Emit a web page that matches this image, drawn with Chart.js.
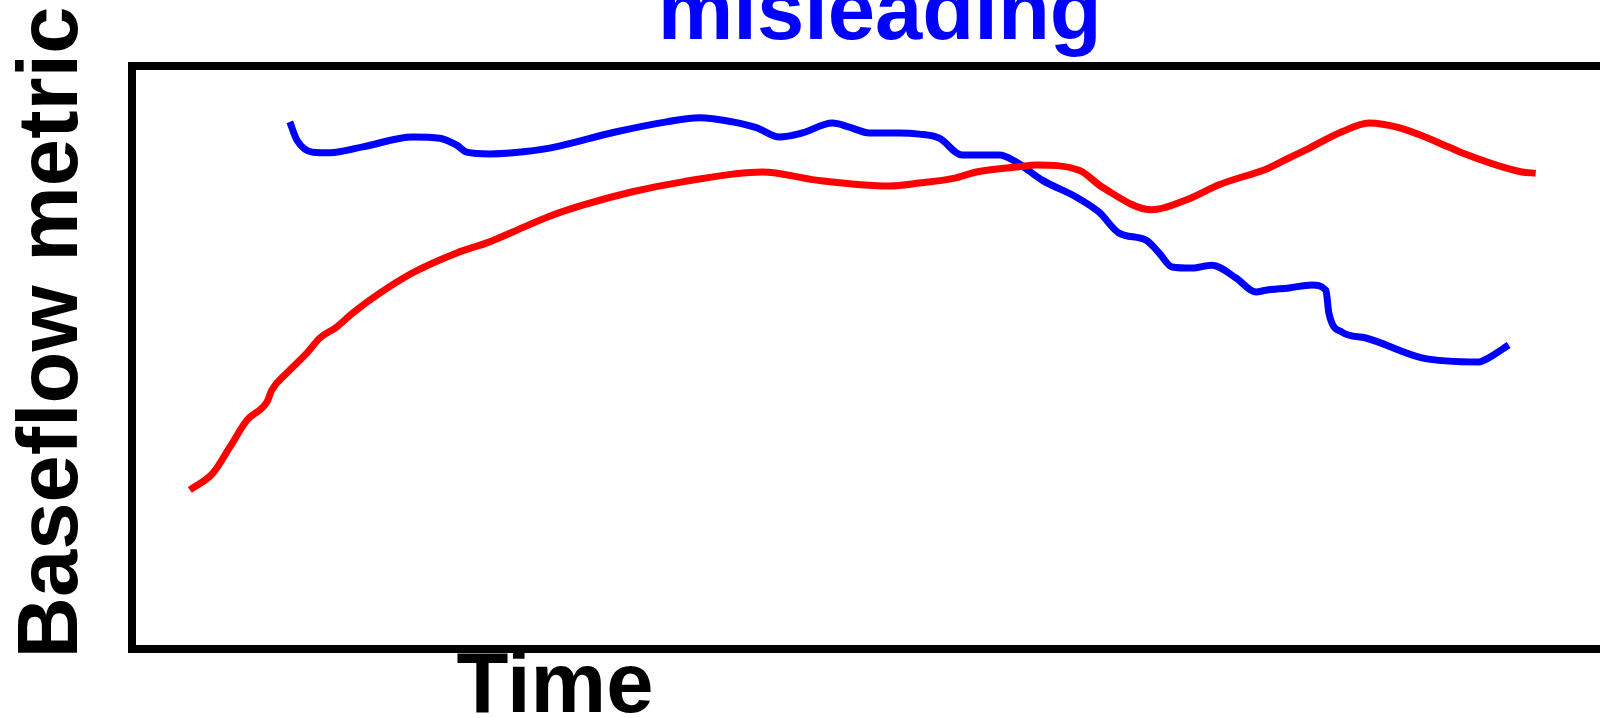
<!DOCTYPE html>
<html>
<head>
<meta charset="utf-8">
<title>misleading</title>
<script src="https://cdn.jsdelivr.net/npm/chart.js@4"></script>
<style>
    html, body { margin: 0; padding: 0; background: #fff; overflow: hidden; }
    #wrap { width: 1628px; height: 718px; }
</style>
</head>
<body>
<div id="wrap"><canvas id="baseflowChart"></canvas></div>
<script>
// time (arbitrary units) and baseflow metric
const redTime = [3.98, 5.55, 6.71, 7.87, 9.23, 9.57, 10.59, 11.95, 12.84, 13.99, 15.08, 16.92, 19.17, 22.17, 24.41, 25.98, 28.50, 30.75, 34.15, 37.56, 43.00, 46.68, 51.65, 53.69, 56.21, 57.58, 60.50, 61.66, 64.59, 66.16, 69.56, 71.88, 74.12, 77.53, 78.89, 80.05, 82.50, 84.34, 86.38, 89.78, 90.67, 94.76, 95.71];
const redValues = [27.2, 30.1, 34.6, 39.2, 42.3, 44.4, 47.3, 50.7, 53.3, 55.2, 57.6, 61.0, 64.5, 67.9, 69.8, 71.5, 74.2, 76.1, 78.4, 80.1, 81.8, 80.4, 79.4, 79.9, 80.8, 81.8, 82.7, 83.0, 82.1, 79.2, 75.3, 77.0, 79.6, 82.5, 84.2, 85.6, 88.7, 90.2, 89.4, 86.1, 85.1, 81.8, 81.6];

const blueTime = [10.79, 11.27, 12.36, 13.52, 15.76, 19.17, 21.01, 22.17, 22.85, 24.41, 25.98, 28.50, 33.06, 36.47, 38.71, 40.96, 42.59, 44.16, 45.73, 47.77, 48.93, 50.29, 52.33, 53.69, 55.06, 56.62, 59.14, 60.30, 62.07, 64.39, 65.95, 67.31, 69.15, 70.04, 70.92, 72.28, 73.65, 75.28, 76.64, 77.32, 78.89, 80.46, 81.41, 81.61, 82.50, 84.13, 87.95, 91.83, 92.51, 93.87];
const blueValues = [90.4, 87.3, 85.2, 85.1, 86.1, 87.8, 87.6, 86.4, 85.2, 84.9, 85.1, 85.9, 88.7, 90.4, 91.1, 90.4, 89.4, 87.8, 88.5, 90.2, 89.5, 88.5, 88.5, 88.3, 87.6, 84.7, 84.7, 83.5, 80.4, 77.5, 74.9, 71.3, 70.1, 67.9, 65.5, 65.3, 65.8, 63.6, 61.2, 61.5, 61.9, 62.4, 61.5, 57.6, 54.3, 53.3, 49.9, 49.2, 49.9, 52.1];

const chartTitle = 'misleading';
const xTitle = 'Time';
const yTitle = 'Baseflow metric';

const fontFamily = '"Liberation Sans", Arial, Helvetica, sans-serif';

// pair up x and y for the linear x axis
const toPoints = (xs, ys) => xs.map((x, i) => ({ x: x, y: ys[i] }));

// axis titles sit off-centre in the original, so draw them by hand
const axisTitles = {
    id: 'axisTitles',
    afterDraw(chart) {
        const ctx = chart.ctx;
        const area = chart.chartArea;
        ctx.save();
        ctx.font = 'bold 85px ' + fontFamily;
        ctx.fillStyle = '#000000';
        ctx.textBaseline = 'alphabetic';
        ctx.textAlign = 'center';
        ctx.fillText(xTitle, 555, area.bottom + 63.5);
        ctx.translate(area.left - 54.5, area.bottom + 10);
        ctx.rotate(-Math.PI / 2);
        ctx.textAlign = 'left';
        ctx.fillText(yTitle, 0, 0);
        ctx.restore();
    }
};

const ctx = document.getElementById('baseflowChart').getContext('2d');
const chart = new Chart(ctx, {
    type: 'line',
    data: {
        datasets: [{
            label: 'red',
            data: toPoints(redTime, redValues),
            borderColor: '#ff0000',
            borderWidth: 7,
            pointRadius: 0,
            fill: false,
            cubicInterpolationMode: 'monotone'
        }, {
            label: 'blue',
            data: toPoints(blueTime, blueValues),
            borderColor: '#0000ff',
            borderWidth: 7,
            pointRadius: 0,
            fill: false,
            cubicInterpolationMode: 'monotone'
        }]
    },
    options: {
        responsive: true,
        maintainAspectRatio: false,
        animation: false,
        layout: {
            padding: { left: 131.5, right: 0, top: 0, bottom: 69.5 }
        },
        plugins: {
            legend: { display: false },
            tooltip: { enabled: false },
            title: {
                display: true,
                text: chartTitle,
                color: '#0000ff',
                font: { family: fontFamily, size: 85, weight: 'bold', lineHeight: 0.37 },
                padding: { top: 0, bottom: 34.5 }
            }
        },
        scales: {
            x: {
                type: 'linear',
                position: 'bottom',
                min: 0,
                max: 102,
                ticks: { display: false },
                grid: { display: true, drawOnChartArea: false, drawTicks: false },
                border: { display: true, color: '#000000', width: 8 }
            },
            x2: {
                type: 'linear',
                position: 'top',
                min: 0,
                max: 102,
                ticks: { display: false },
                grid: { display: true, drawOnChartArea: false, drawTicks: false },
                border: { display: true, color: '#000000', width: 8 }
            },
            y: {
                type: 'linear',
                position: 'left',
                min: 0,
                max: 100,
                ticks: { display: false },
                grid: { display: true, drawOnChartArea: false, drawTicks: false },
                border: { display: true, color: '#000000', width: 8 }
            }
        }
    },
    plugins: [axisTitles]
});
</script>
</body>
</html>
